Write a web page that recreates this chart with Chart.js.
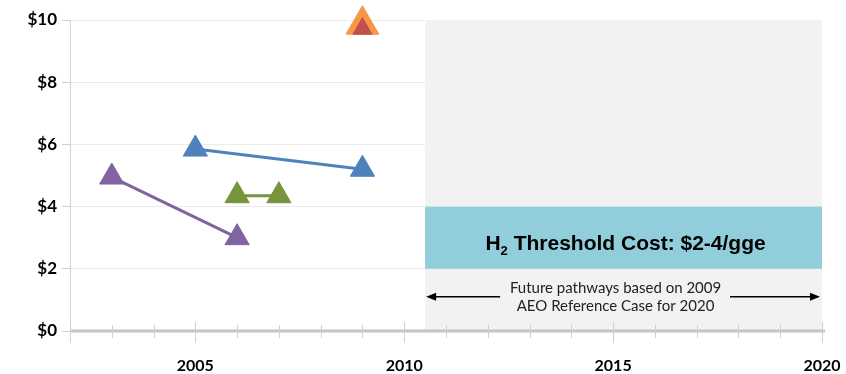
<!DOCTYPE html>
<html>
<head>
<meta charset="utf-8">
<script src="https://cdn.jsdelivr.net/npm/chart.js@4/dist/chart.umd.min.js"></script>
<style>
  html, body { margin: 0; padding: 0; background: #fff; }
  #wrap { width: 846px; height: 374px; position: relative; }
</style>
</head>
<body>
<div id="wrap"><canvas id="cost-chart"></canvas></div>
<script>
// cost pathways ($/gge) by year
const blueYears = [2005, 2009];
const blueCost = [5.85, 5.2];
const purpleYears = [2003, 2006];
const purpleCost = [4.95, 3.0];
const greenYears = [2006, 2007];
const greenCost = [4.35, 4.35];
const orangeYears = [2009];
const orangeCost = [9.85];
const redYears = [2009];
const redCost = [9.72];

// future region and threshold band
const futureStart = 2010.5;
const futureEnd = 2020;
const thresholdLow = 2;
const thresholdHigh = 4;

const yTicks = [0, 2, 4, 6, 8, 10];
const yearMin = 2002;
const yearMax = 2020;

const thresholdLabel = ['H', '2', ' Threshold Cost: $2-4/gge'];
const futureNote = ['Future pathways based on 2009', 'AEO Reference Case for 2020'];

function toPoints(xs, ys) {
  return xs.map((x, i) => ({ x, y: ys[i] }));
}

function series(xs, ys, color, radius) {
  return {
    data: toPoints(xs, ys),
    borderColor: color,
    backgroundColor: color,
    borderWidth: 3,
    pointStyle: 'triangle',
    pointRadius: radius,
    pointBorderWidth: 1,
    pointBorderColor: color,
    pointBackgroundColor: color,
    showLine: true,
    clip: false,
  };
}

function arrow(ctx, x1, x2, y) {
  const dir = Math.sign(x2 - x1);
  ctx.beginPath();
  ctx.moveTo(x1, y);
  ctx.lineTo(x2 - dir * 8, y);
  ctx.stroke();
  ctx.beginPath();
  ctx.moveTo(x2, y);
  ctx.lineTo(x2 - dir * 10, y - 4);
  ctx.lineTo(x2 - dir * 10, y + 4);
  ctx.closePath();
  ctx.fill();
}

const futurePlugin = {
  id: 'futureRegion',
  beforeDatasetsDraw(chart) {
    const { ctx, scales: { x, y } } = chart;
    const left = x.getPixelForValue(futureStart);
    const right = x.getPixelForValue(futureEnd);
    const top = y.getPixelForValue(10);
    const bottom = y.getPixelForValue(0);
    ctx.save();
    ctx.fillStyle = '#f2f2f2';
    ctx.fillRect(left, top, right - left, bottom - top);

    const bandTop = y.getPixelForValue(thresholdHigh);
    const bandBottom = y.getPixelForValue(thresholdLow);
    ctx.fillStyle = '#92cddc';
    ctx.fillRect(left, bandTop, right - left, bandBottom - bandTop);

    // threshold label with subscript
    const big = 'bold 21px "Liberation Sans", Arial, sans-serif';
    const small = 'bold 13px "Liberation Sans", Arial, sans-serif';
    ctx.font = big;
    const w0 = ctx.measureText(thresholdLabel[0]).width;
    const w2 = ctx.measureText(thresholdLabel[2]).width;
    ctx.font = small;
    const w1 = ctx.measureText(thresholdLabel[1]).width;
    const total = w0 + w1 + w2;
    let tx = (left + right) / 2 - total / 2 + 2;
    const ty = (bandTop + bandBottom) / 2 + 12;
    ctx.fillStyle = '#000';
    ctx.textBaseline = 'alphabetic';
    ctx.textAlign = 'left';
    ctx.font = big;
    ctx.fillText(thresholdLabel[0], tx, ty);
    tx += w0;
    ctx.font = small;
    ctx.fillText(thresholdLabel[1], tx, ty + 5);
    tx += w1;
    ctx.font = big;
    ctx.fillText(thresholdLabel[2], tx, ty);

    // note and arrows
    const cx = (left + right) / 2 - 8;
    ctx.font = '15px Lato, "Open Sans", sans-serif';
    ctx.textAlign = 'center';
    ctx.textBaseline = 'middle';
    ctx.fillStyle = '#222';
    ctx.fillText(futureNote[0], cx, bandBottom + 19);
    ctx.fillText(futureNote[1], cx, bandBottom + 37);
    const ay = bandBottom + 28;
    ctx.strokeStyle = '#000';
    ctx.fillStyle = '#000';
    ctx.lineWidth = 1.5;
    arrow(ctx, left + 75, left + 1, ay);
    arrow(ctx, right - 92, right - 2, ay);

    // x axis line and year ticks
    ctx.strokeStyle = '#c4c4c4';
    ctx.lineWidth = 3;
    ctx.beginPath();
    ctx.moveTo(x.left, bottom);
    ctx.lineTo(x.right + 3, bottom);
    ctx.stroke();
    ctx.strokeStyle = '#d0d0d0';
    ctx.lineWidth = 1;
    for (let yr = yearMin; yr <= yearMax; yr++) {
      const px = Math.round(x.getPixelForValue(yr)) + 0.5;
      const major = yr % 5 === 0 || yr === yearMin;
      ctx.beginPath();
      ctx.moveTo(px, major ? bottom - 9 : bottom - 6);
      ctx.lineTo(px, major ? bottom + 12 : bottom + 7);
      ctx.stroke();
    }
    ctx.restore();
  },
};

const ctx = document.getElementById('cost-chart').getContext('2d');
new Chart(ctx, {
  type: 'scatter',
  data: {
    datasets: [
      // earlier datasets are painted on top, so the small red marker comes before the orange one
      series(redYears, redCost, '#c0504d', 11),
      series(orangeYears, orangeCost, '#f79646', 19),
      series(blueYears, blueCost, '#4f81bd', 14),
      series(purpleYears, purpleCost, '#8064a2', 14),
      series(greenYears, greenCost, '#77933c', 14),
    ],
  },
  options: {
    responsive: true,
    maintainAspectRatio: false,
    animation: false,
    layout: { padding: { top: 20, right: 24, left: 0, bottom: 0 } },
    plugins: {
      legend: { display: false },
      tooltip: { enabled: false },
    },
    scales: {
      x: {
        type: 'linear',
        min: yearMin,
        max: yearMax,
        afterFit: (s) => {
          s.height = 43;
          s.paddingLeft = 0;
          s.paddingRight = 0;
        },
        grid: { display: false, drawTicks: false },
        border: { display: false },
        ticks: {
          stepSize: 1,
          autoSkip: false,
          maxRotation: 0,
          padding: 25,
          color: '#000',
          font: { family: 'Lato, "Open Sans", sans-serif', size: 16, weight: 'bold' },
          callback: (v) => (v % 5 === 0 ? String(v) : ''),
        },
      },
      y: {
        min: 0,
        max: 10,
        afterFit: (s) => { s.width = 70; },
        afterBuildTicks: (s) => { s.ticks = yTicks.map((v) => ({ value: v })); },
        grid: { color: '#ececec', tickLength: 8, tickColor: '#d0d0d0' },
        border: { color: '#d4d4d4' },
        ticks: {
          padding: 5,
          color: '#000',
          font: { family: 'Lato, "Open Sans", sans-serif', size: 17, weight: 'bold' },
          callback: (v) => '$' + v,
        },
      },
    },
  },
  plugins: [futurePlugin],
});
</script>
</body>
</html>
